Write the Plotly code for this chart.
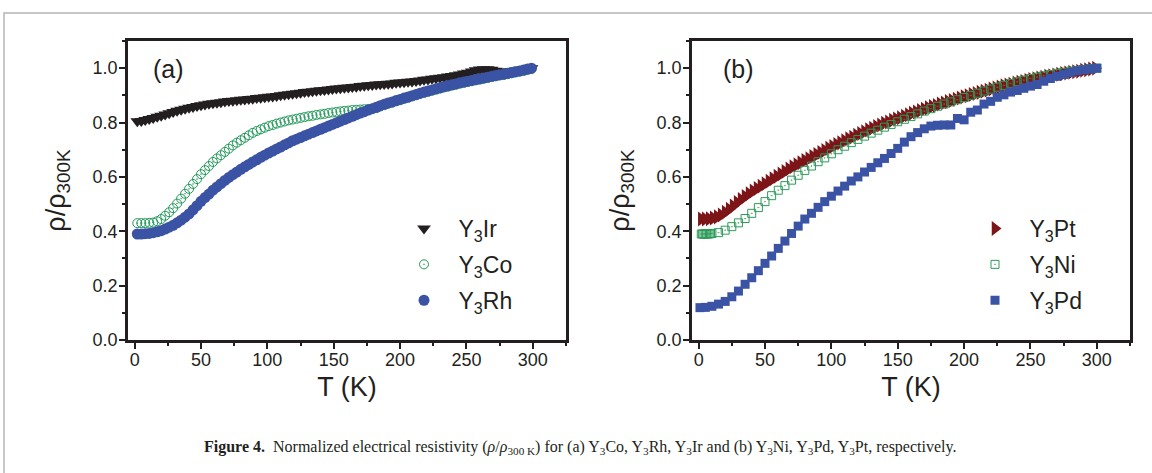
import plotly.graph_objects as go

# ---------------- data: panel (a) ----------------
T_a = list(range(2, 302, 3))  # 2 ... 299 K

rho_Ir = [0.805, 0.806, 0.809, 0.813, 0.817, 0.821, 0.825, 0.830, 0.834, 0.839,
          0.843, 0.847, 0.851, 0.854, 0.857, 0.861, 0.864, 0.866, 0.869, 0.871,
          0.873, 0.875, 0.877, 0.879, 0.880, 0.882, 0.884, 0.885, 0.887, 0.888,
          0.890, 0.891, 0.893, 0.895, 0.896, 0.898, 0.900, 0.902, 0.904, 0.906,
          0.908, 0.910, 0.912, 0.913, 0.915, 0.917, 0.919, 0.920, 0.922, 0.923,
          0.925, 0.926, 0.928, 0.929, 0.931, 0.932, 0.934, 0.935, 0.937, 0.938,
          0.940, 0.941, 0.942, 0.943, 0.944, 0.946, 0.947, 0.948, 0.950, 0.951,
          0.953, 0.955, 0.957, 0.958, 0.961, 0.963, 0.965, 0.967, 0.969, 0.971,
          0.974, 0.977, 0.980, 0.983, 0.988, 0.992, 0.995, 0.996, 0.996, 0.994,
          0.991, 0.988, 0.987, 0.987, 0.989, 0.991, 0.994, 0.996, 0.998, 1.000]

rho_Co = [0.430, 0.430, 0.430, 0.431, 0.432, 0.437, 0.445, 0.457, 0.470, 0.485,
          0.502, 0.520, 0.538, 0.556, 0.574, 0.592, 0.610, 0.625, 0.640, 0.655,
          0.668, 0.680, 0.692, 0.704, 0.716, 0.726, 0.735, 0.744, 0.753, 0.762,
          0.769, 0.775, 0.781, 0.787, 0.791, 0.796, 0.800, 0.804, 0.808, 0.811,
          0.814, 0.817, 0.820, 0.823, 0.825, 0.828, 0.830, 0.832, 0.835, 0.837,
          0.839, 0.841, 0.843, 0.844, 0.846, 0.847, 0.848, 0.849, 0.850, 0.851,
          0.853, 0.859, 0.864, 0.869, 0.873, 0.878, 0.882, 0.887, 0.891, 0.896,
          0.900, 0.905, 0.909, 0.913, 0.917, 0.921, 0.925, 0.929, 0.932, 0.936,
          0.939, 0.943, 0.946, 0.949, 0.952, 0.955, 0.958, 0.961, 0.964, 0.967,
          0.970, 0.973, 0.975, 0.978, 0.981, 0.984, 0.987, 0.990, 0.994, 0.997]

rho_Rh = [0.390, 0.390, 0.391, 0.392, 0.395, 0.398, 0.402, 0.408, 0.415, 0.422,
          0.431, 0.441, 0.452, 0.464, 0.479, 0.494, 0.510, 0.524, 0.537, 0.551,
          0.563, 0.575, 0.587, 0.598, 0.608, 0.618, 0.628, 0.637, 0.646, 0.655,
          0.663, 0.672, 0.680, 0.688, 0.695, 0.703, 0.710, 0.718, 0.725, 0.733,
          0.739, 0.745, 0.751, 0.757, 0.763, 0.769, 0.775, 0.781, 0.787, 0.793,
          0.799, 0.805, 0.811, 0.817, 0.823, 0.829, 0.835, 0.840, 0.846, 0.851,
          0.856, 0.862, 0.867, 0.872, 0.876, 0.881, 0.885, 0.890, 0.894, 0.899,
          0.903, 0.908, 0.912, 0.916, 0.920, 0.924, 0.928, 0.932, 0.935, 0.939,
          0.942, 0.946, 0.949, 0.952, 0.955, 0.958, 0.961, 0.964, 0.967, 0.970,
          0.973, 0.976, 0.978, 0.981, 0.984, 0.987, 0.990, 0.993, 0.997, 1.000]

# ---------------- data: panel (b) ----------------
T_pt = list(range(2, 302, 3))
rho_Pt = [0.445, 0.445, 0.446, 0.449, 0.453, 0.460, 0.470, 0.481, 0.493, 0.506,
          0.517, 0.528, 0.538, 0.548, 0.557, 0.566, 0.575, 0.584, 0.593, 0.602,
          0.611, 0.620, 0.629, 0.637, 0.645, 0.652, 0.660, 0.667, 0.675, 0.682,
          0.690, 0.697, 0.705, 0.712, 0.719, 0.726, 0.733, 0.740, 0.746, 0.753,
          0.760, 0.766, 0.773, 0.779, 0.785, 0.791, 0.797, 0.802, 0.808, 0.813,
          0.818, 0.823, 0.829, 0.834, 0.839, 0.844, 0.849, 0.854, 0.859, 0.863,
          0.868, 0.872, 0.877, 0.881, 0.886, 0.890, 0.895, 0.899, 0.903, 0.907,
          0.911, 0.915, 0.919, 0.923, 0.927, 0.931, 0.935, 0.938, 0.941, 0.945,
          0.948, 0.951, 0.955, 0.958, 0.961, 0.964, 0.967, 0.970, 0.972, 0.975,
          0.978, 0.980, 0.982, 0.985, 0.987, 0.989, 0.992, 0.994, 0.997, 1.000]

T_ni = [2, 3, 4, 5, 6, 7, 8, 9, 10] + list(range(15, 305, 5))
rho_Ni = [0.390, 0.390, 0.390, 0.390, 0.390, 0.390, 0.391, 0.391, 0.392,
          0.395, 0.404, 0.417, 0.431, 0.447, 0.466, 0.487, 0.509, 0.531, 0.551,
          0.568, 0.588, 0.606, 0.624, 0.640, 0.656, 0.670, 0.685, 0.700, 0.713,
          0.726, 0.738, 0.750, 0.761, 0.772, 0.783, 0.793, 0.803, 0.812, 0.822,
          0.832, 0.842, 0.851, 0.860, 0.868, 0.876, 0.884, 0.892, 0.900, 0.908,
          0.916, 0.923, 0.930, 0.937, 0.944, 0.950, 0.956, 0.962, 0.967, 0.972,
          0.977, 0.981, 0.985, 0.989, 0.992, 0.995, 0.998, 1.000]

T_pd = [1] + list(range(5, 305, 5))
rho_Pd = [0.119, 0.120, 0.124, 0.132, 0.142, 0.159, 0.180, 0.205, 0.229, 0.255,
          0.282, 0.309, 0.337, 0.364, 0.392, 0.419, 0.445, 0.466, 0.488, 0.509,
          0.529, 0.548, 0.566, 0.585, 0.600, 0.618, 0.635, 0.652, 0.668, 0.686,
          0.705, 0.728, 0.748, 0.763, 0.777, 0.787, 0.790, 0.791, 0.791, 0.815,
          0.810, 0.838, 0.846, 0.868, 0.878, 0.893, 0.902, 0.912, 0.918, 0.926,
          0.934, 0.940, 0.952, 0.962, 0.970, 0.977, 0.984, 0.990, 0.994, 0.997,
          1.000]

x_ticks = [0, 50, 100, 150, 200, 250, 300]
y_ticks = [0.0, 0.2, 0.4, 0.6, 0.8, 1.0]
x_range = [-5, 325]
y_range = [0, 1.1]

# ---------------- styling ----------------
INK = "#231f20"
FONT = "Liberation Sans, Arial, sans-serif"
W, H = 1152, 473

def px_x(p):
    return p / W

def px_y(p):
    return (H - p) / H

dom_a = [px_x(128), px_x(566)]
dom_b = [px_x(692), px_x(1130)]
dom_y = [px_y(340), px_y(41)]

fig = go.Figure()

# panel (a)
fig.add_trace(go.Scatter(x=T_a, y=rho_Ir, mode="markers", name="Y<sub>3</sub>Ir", legendgroup="ir",
                         marker=dict(symbol="triangle-down", size=12, color=INK, line=dict(width=0)),
                         xaxis="x", yaxis="y", legend="legend"))
fig.add_trace(go.Scatter(x=T_a, y=rho_Co, mode="markers", name="Y<sub>3</sub>Co", legendgroup="co",
                         marker=dict(symbol="circle-open-dot", size=9, color="#22995a", line=dict(width=1)),
                         xaxis="x", yaxis="y", legend="legend"))
fig.add_trace(go.Scatter(x=T_a, y=rho_Rh, mode="markers", name="Y<sub>3</sub>Rh", legendgroup="rh",
                         marker=dict(symbol="circle", size=11, color="#3a53a4", line=dict(width=0)),
                         xaxis="x", yaxis="y", legend="legend"))

# panel (b)
fig.add_trace(go.Scatter(x=T_pt, y=rho_Pt, mode="markers", name="Y<sub>3</sub>Pt", legendgroup="pt",
                         marker=dict(symbol="triangle-right", size=13, color="#7d1417", line=dict(width=0)),
                         xaxis="x2", yaxis="y2", legend="legend2"))
fig.add_trace(go.Scatter(x=T_ni, y=rho_Ni, mode="markers", name="Y<sub>3</sub>Ni", legendgroup="ni",
                         marker=dict(symbol="square-open-dot", size=8, color="#2e9b5a", line=dict(width=1)),
                         xaxis="x2", yaxis="y2", legend="legend2"))
fig.add_trace(go.Scatter(x=T_pd, y=rho_Pd, mode="markers", name="Y<sub>3</sub>Pd", legendgroup="pd",
                         marker=dict(symbol="square", size=9, color="#3a53a4", line=dict(width=0)),
                         xaxis="x2", yaxis="y2", legend="legend2"))

tickfont = dict(family=FONT, size=18, color=INK)
titlefont = dict(family=FONT, size=27, color=INK)

def xaxis(domain, anchor):
    return dict(domain=domain, anchor=anchor, range=x_range, tickmode="array", tickvals=x_ticks,
                ticks="outside", ticklen=6, tickwidth=2, tickcolor=INK, ticklabelstandoff=-4,
                minor=dict(dtick=25, tick0=0, ticks="outside", ticklen=3, tickwidth=2, tickcolor=INK),
                showline=True, linewidth=2.5, linecolor=INK, mirror=True,
                showgrid=False, zeroline=False, tickfont=tickfont,
                title=dict(text="T (K)", font=titlefont, standoff=8), automargin=False)

def yaxis(domain, anchor):
    return dict(domain=domain, anchor=anchor, range=y_range, tickmode="array", tickvals=y_ticks,
                tickformat=".1f", ticks="outside", ticklen=6, tickwidth=2, tickcolor=INK,
                ticklabelstandoff=-2,
                minor=dict(dtick=0.1, tick0=0, ticks="outside", ticklen=3, tickwidth=2, tickcolor=INK),
                showline=True, linewidth=2.5, linecolor=INK, mirror=True,
                showgrid=False, zeroline=False, tickfont=tickfont,
                title=dict(text="ρ/ρ<sub>300K</sub>", font=titlefont, standoff=20), automargin=False)

def top_axis(over, anchor):
    return dict(overlaying=over, side="top", anchor=anchor, range=x_range, tickmode="array",
                tickvals=x_ticks, ticks="inside", ticklen=6, tickwidth=2, tickcolor=INK,
                minor=dict(dtick=25, tick0=0, ticks="inside", ticklen=3, tickwidth=2, tickcolor=INK),
                showticklabels=False, showline=False, showgrid=False, zeroline=False)

def right_axis(over, anchor):
    return dict(overlaying=over, side="right", anchor=anchor, range=y_range, tickmode="array",
                tickvals=y_ticks, ticks="inside", ticklen=6, tickwidth=2, tickcolor=INK,
                minor=dict(dtick=0.1, tick0=0, ticks="inside", ticklen=3, tickwidth=2, tickcolor=INK),
                showticklabels=False, showline=False, showgrid=False, zeroline=False)

legfont = dict(family=FONT, size=23, color=INK)

fig.update_layout(
    width=W, height=H,
    margin=dict(l=0, r=0, t=0, b=0),
    paper_bgcolor="white", plot_bgcolor="white",
    xaxis=xaxis(dom_a, "y"), yaxis=yaxis(dom_y, "x"),
    xaxis2=xaxis(dom_b, "y2"), yaxis2=yaxis(dom_y, "x2"),
    xaxis3=top_axis("x", "y"), yaxis3=right_axis("y", "x"),
    xaxis4=top_axis("x2", "y2"), yaxis4=right_axis("y2", "x2"),
    legend=dict(x=px_x(389.5), y=px_y(207), xanchor="left", yanchor="top",
                bgcolor="rgba(0,0,0,0)", font=legfont, itemwidth=59, tracegroupgap=3),
    legend2=dict(x=px_x(960.5), y=px_y(207), xanchor="left", yanchor="top",
                 bgcolor="rgba(0,0,0,0)", font=legfont, itemwidth=59, tracegroupgap=3),
    showlegend=True,
    annotations=[
        dict(text="(a)", x=px_x(168), y=px_y(69), xref="paper", yref="paper",
             xanchor="center", yanchor="middle",
             showarrow=False, font=dict(family=FONT, size=25, color=INK)),
        dict(text="(b)", x=px_x(738), y=px_y(69), xref="paper", yref="paper",
             xanchor="center", yanchor="middle",
             showarrow=False, font=dict(family=FONT, size=25, color=INK)),
        dict(text="<b>Figure 4.</b>  Normalized electrical resistivity (<i>ρ</i>/<i>ρ</i><sub>300 K</sub>) "
                  "for (a) Y<sub>3</sub>Co, Y<sub>3</sub>Rh, Y<sub>3</sub>Ir and (b) Y<sub>3</sub>Ni, "
                  "Y<sub>3</sub>Pd, Y<sub>3</sub>Pt, respectively.",
             x=px_x(580), y=px_y(447), xref="paper", yref="paper", showarrow=False,
             xanchor="center", yanchor="middle",
             font=dict(family="Liberation Serif, DejaVu Serif, serif", size=16, color=INK)),
    ],
    shapes=[dict(type="rect", xref="paper", yref="paper", x0=px_x(4), x1=1.05,
                 y0=-0.05, y1=px_y(13), line=dict(color="#b5b5b5", width=1.5))],
)

fig.write_html("out.html", config={"displayModeBar": False},
               post_script="document.body.style.margin='0px';document.body.style.overflow='hidden';")
